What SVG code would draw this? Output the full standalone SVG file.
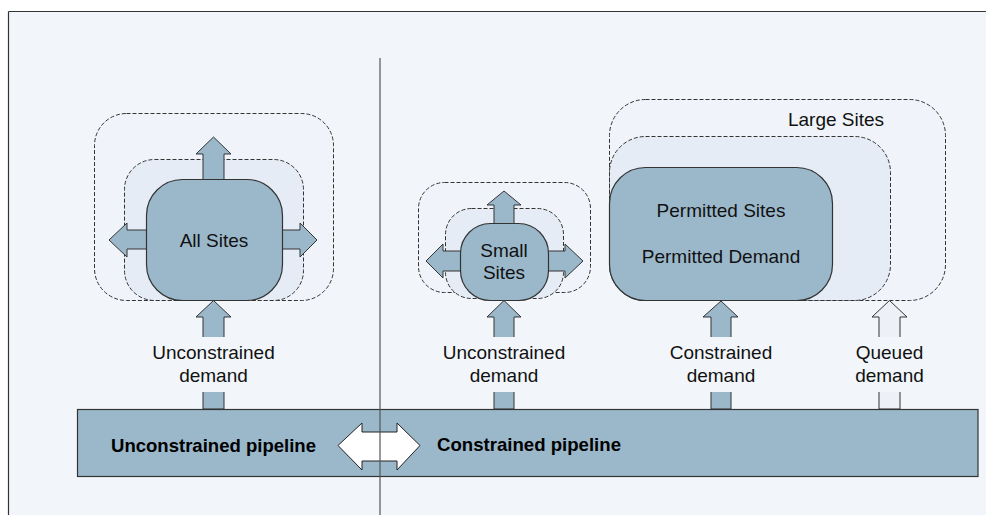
<svg xmlns="http://www.w3.org/2000/svg" width="986" height="515" viewBox="0 0 986 515">
<style>
.framebg{fill:#f2f6fb;stroke:none}
.fline{stroke:#333;stroke-width:1.2}
.outer{fill:#f0f4fa;stroke:#333;stroke-width:1;stroke-dasharray:4 2}
.inner{fill:#e5ecf5;stroke:#333;stroke-width:1;stroke-dasharray:4 2}
.node{fill:#9bb8cb;stroke:#333;stroke-width:1.2}
.arr{fill:#9bb8cb;stroke:#333;stroke-width:1}
.qarr{fill:#eef0f8;stroke:#333;stroke-width:1}
.warr{fill:#ffffff;stroke:#222;stroke-width:1}
.lbg{fill:#f2f6fb;stroke:none}
.t{font-family:"Liberation Sans",Arial,sans-serif;font-size:19px;fill:#111;text-anchor:middle}
.b{font-family:"Liberation Sans",Arial,sans-serif;font-size:18.5px;font-weight:700;fill:#000}
.div{stroke:#555;stroke-width:1.2}
</style>
<rect x="0" y="0" width="986" height="515" fill="#ffffff"/>
<rect class="framebg" x="8.5" y="11.5" width="978" height="504"/>
<line class="fline" x1="8.5" y1="11.5" x2="986" y2="11.5"/>
<line class="fline" x1="8.5" y1="11.5" x2="8.5" y2="515"/>

<g id="all-sites">
  <rect class="outer" x="94.5" y="113.5" width="239" height="187" rx="32"/>
  <rect class="inner" x="124.5" y="159.5" width="179" height="141" rx="30"/>
  <polygon class="arr" points="203,190 203,154 196,154 213.5,137 231,154 224,154 224,190"/>
  <polygon class="arr" points="152,230 127,230 127,223 109,240 127,257 127,249 152,249"/>
  <polygon class="arr" points="276,230 300,230 300,223 317,240 300,257 300,249 276,249"/>
  <rect class="node" x="146.5" y="179.5" width="136" height="121" rx="36"/>
  <text class="t" x="214" y="247">All Sites</text>
</g>

<g id="small-sites">
  <rect class="outer" x="418.5" y="182.5" width="172" height="110" rx="26"/>
  <rect class="inner" x="445.5" y="208.5" width="118" height="90" rx="26"/>
  <polygon class="arr" points="494,230 494,205 487,205 504,191 521,205 514,205 514,230"/>
  <polygon class="arr" points="466,251 443,251 443,244 426,261 443,278 443,271 466,271"/>
  <polygon class="arr" points="542,251 565,251 565,244 583,261 565,278 565,271 542,271"/>
  <rect class="node" x="460.5" y="223.5" width="88" height="77" rx="30"/>
  <text class="t" x="504" y="257">Small</text>
  <text class="t" x="504" y="279">Sites</text>
</g>

<g id="large-sites">
  <rect class="outer" x="609.5" y="99.5" width="336" height="201" rx="36"/>
  <text class="t" x="836" y="126">Large Sites</text>
  <rect class="inner" x="609.5" y="136.5" width="281" height="164" rx="36"/>
  <rect class="node" x="609.5" y="167.5" width="223" height="133" rx="36"/>
  <text class="t" x="721" y="217">Permitted Sites</text>
  <text class="t" x="721" y="263">Permitted Demand</text>
</g>

<g id="connectors">
  <polygon class="arr" points="203,409 203,317 196,317 213.5,300.5 231,317 224,317 224,409"/>
  <polygon class="arr" points="494,409 494,317 487,317 504,300.5 521,317 514,317 514,409"/>
  <polygon class="arr" points="711,409 711,317 703,317 721,301 738,317 731,317 731,409"/>
  <polygon class="qarr" points="879,409 879,317 872,317 889.5,300.5 907,317 900,317 900,409"/>
  <rect class="lbg" x="150" y="337" width="130" height="55"/>
  <rect class="lbg" x="440" y="337" width="130" height="55"/>
  <rect class="lbg" x="660" y="337" width="120" height="55"/>
  <rect class="lbg" x="850" y="337" width="80" height="55"/>
  <text class="t" x="213.5" y="359">Unconstrained</text>
  <text class="t" x="213.5" y="382">demand</text>
  <text class="t" x="504" y="359">Unconstrained</text>
  <text class="t" x="504" y="382">demand</text>
  <text class="t" x="721" y="359">Constrained</text>
  <text class="t" x="721" y="382">demand</text>
  <text class="t" x="889.5" y="359">Queued</text>
  <text class="t" x="889.5" y="382">demand</text>
</g>

<g id="pipeline">
  <rect class="node" x="77.5" y="409.5" width="900.5" height="67"/>
  <text class="b" x="111" y="452" textLength="205" lengthAdjust="spacingAndGlyphs">Unconstrained pipeline</text>
  <text class="b" x="437" y="451" textLength="184" lengthAdjust="spacingAndGlyphs">Constrained pipeline</text>
  <polygon class="warr" points="338,445.5 362,423 362,432 397,432 397,423 420,445.5 397,470 397,461 362,461 362,470"/>
</g>

<line class="div" x1="380" y1="58" x2="380" y2="515"/>
</svg>
